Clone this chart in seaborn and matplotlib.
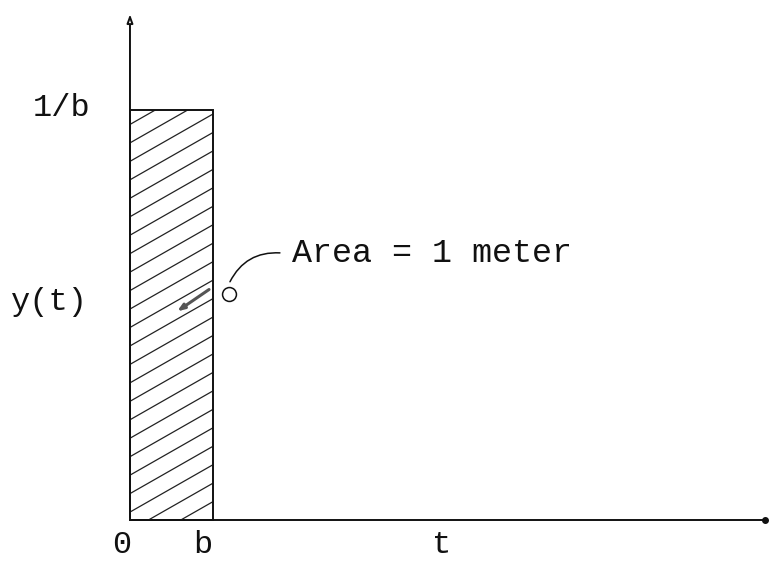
import numpy as np
import matplotlib.pyplot as plt
import seaborn as sns

# rectangular pulse: width b, height 1/b, unit area
b = 1.0
pulse_height = 1.0 / b
t_max = 7.65
y_max = 1.24

tick_labels_x = ["0", "b"]
tick_labels_y = ["1/b"]
area_label = "Area = 1 meter"

sns.set_style("white")
plt.rcParams["font.family"] = ["Liberation Mono", "DejaVu Sans Mono"]

fig = plt.figure(figsize=(7.71, 5.64), dpi=100)
ax = fig.add_axes([0, 0, 1, 1])
ax.set_xlim(-1.566, 7.723)
ax.set_ylim(-0.107, 1.268)
ax.axis("off")

ink = "#111111"

# the pulse
bars = ax.bar([0], [pulse_height], width=b, align="edge",
              fill=False, edgecolor=ink, linewidth=1.4, zorder=3)
rect = bars.patches[0]

# shallow hatching (about 30 degrees), clipped to the pulse
slope = 0.57 * 83 / 410          # pixel slope converted to data units
step = 0.045
for y0 in np.arange(-slope * b, pulse_height + step, step):
    xs = np.array([0, b])
    line, = ax.plot(xs, y0 + slope * xs, color="#222222", lw=0.9, zorder=2)
    line.set_clip_path(rect)

# axes with arrow / end dot
ax.annotate("", xy=(0, y_max), xytext=(0, 0),
            arrowprops=dict(arrowstyle="-|>,head_length=0.5,head_width=0.18",
                            color=ink, lw=1.4, fc="white"))
ax.plot([0, t_max], [0, 0], color=ink, lw=1.4)
ax.plot([t_max], [0], "o", color=ink, ms=4)

fs = 23
ax.text(-0.82, pulse_height + 0.005, tick_labels_y[0], fontsize=fs,
        ha="center", va="center", color=ink)
ax.text(-0.964, 0.532, "y(t)", fontsize=fs, ha="center", va="center", color=ink)
ax.text(-0.096, -0.061, tick_labels_x[0], fontsize=fs, ha="center", va="center", color=ink)
ax.text(0.88, -0.061, tick_labels_x[1], fontsize=fs, ha="center", va="center", color=ink)
ax.text(3.76, -0.061, "t", fontsize=fs, ha="center", va="center", color=ink)

# annotation with curled leader
ax.text(1.95, 0.651, area_label, fontsize=24, ha="left", va="center", color=ink)
ax.annotate("", xy=(1.19, 0.575), xytext=(1.84, 0.651),
            arrowprops=dict(arrowstyle="-", color=ink, lw=1.1,
                            connectionstyle="arc3,rad=0.35"))
ax.plot([1.19], [0.551], "o", mfc="white", mec=ink, ms=10, mew=1.1)
ax.annotate("", xy=(0.54, 0.505), xytext=(0.98, 0.566),
            arrowprops=dict(arrowstyle="-|>,head_length=0.4,head_width=0.15",
                            color="#555555", lw=2.2))

fig.savefig("out.png", dpi=100)
